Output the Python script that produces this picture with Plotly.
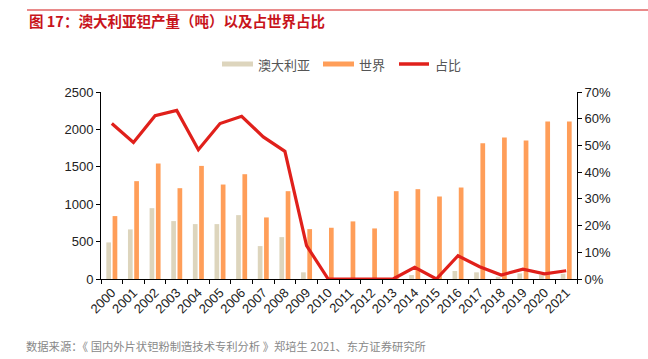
import plotly.graph_objects as go

years = [str(y) for y in range(2000, 2022)]
australia = [489, 663, 947, 774, 734, 734, 854, 440, 560, 89, 0, 0, 0, 0, 53, 0, 107, 89, 30, 75, 53, 71]
world = [841, 1308, 1544, 1214, 1512, 1263, 1401, 823, 1174, 667, 685, 770, 676, 1174, 1201, 1103, 1223, 1815, 1891, 1851, 2104, 2104]
share = [58.2, 51.1, 61.1, 63.1, 48.4, 58.2, 60.9, 53.2, 47.8, 12.5, 0, 0, 0, 0, 4.4, 0, 8.7, 4.6, 1.5, 3.7, 1.9, 3.1]
share_frac = [s / 100 for s in share]

BEIGE = "#DDD5BD"
ORANGE = "#FF9E59"
RED = "#E0201B"
FONT = "Noto Sans CJK SC"

W, H = 648, 359
L, R, T, B = 101, 577, 92, 279

def px(x):
    return (x - L) / (R - L)

def py(y):
    return (B - y) / (B - T)

fig = go.Figure()
fig.add_trace(go.Bar(x=years, y=australia, name="澳大利亚", marker=dict(color=BEIGE, line=dict(width=0))))
fig.add_trace(go.Bar(x=years, y=world, name="世界", marker=dict(color=ORANGE, line=dict(width=0))))
fig.add_trace(go.Scatter(x=years, y=share_frac, name="占比", mode="lines", yaxis="y2",
                         line=dict(color=RED, width=3.2)))

axis_common = dict(showgrid=False, zeroline=False, showline=True, linecolor="#000", linewidth=1,
                   ticks="outside", ticklen=4, tickcolor="#000",
                   tickfont=dict(family="Liberation Sans, Arial", size=13, color="#222"))

fig.update_layout(
    width=W, height=H,
    margin=dict(l=L, r=W - R, t=T, b=H - B),
    paper_bgcolor="white", plot_bgcolor="white",
    barmode="group", bargap=0.42, bargroupgap=0.25,
    showlegend=False,
    xaxis=dict(**axis_common, type="category", tickangle=-45, tickson="boundaries"),
    yaxis=dict(**axis_common, range=[0, 2500], dtick=500),
    yaxis2=dict(**axis_common, overlaying="y", side="right", range=[0, 0.7], dtick=0.1,
                tickformat=".0%"),
)

shapes = [
    dict(type="line", xref="paper", yref="paper", x0=px(27), x1=px(648), y0=py(10), y1=py(10),
         line=dict(color="#E98A8A", width=2)),
    dict(type="rect", xref="paper", yref="paper", x0=px(222), x1=px(253), y0=py(66.5), y1=py(61.5),
         fillcolor=BEIGE, line=dict(width=0)),
    dict(type="rect", xref="paper", yref="paper", x0=px(323), x1=px(354), y0=py(66.5), y1=py(61.5),
         fillcolor=ORANGE, line=dict(width=0)),
    dict(type="line", xref="paper", yref="paper", x0=px(399), x1=px(429), y0=py(64), y1=py(64),
         line=dict(color=RED, width=3.5)),
]
fig.update_layout(shapes=shapes)

ann = [
    dict(text="<b>图 17：澳大利亚钽产量（吨）以及占世界占比</b>", x=px(27), y=py(20), xanchor="left", yanchor="middle",
         font=dict(family=FONT, size=14.5, color="#C8141C")),
    dict(text="澳大利亚", x=px(256), y=py(64), xanchor="left", yanchor="middle",
         font=dict(family=FONT, size=13, color="#555")),
    dict(text="世界", x=px(357), y=py(64), xanchor="left", yanchor="middle",
         font=dict(family=FONT, size=13, color="#555")),
    dict(text="占比", x=px(433), y=py(64), xanchor="left", yanchor="middle",
         font=dict(family=FONT, size=13, color="#555")),
    dict(text="数据来源：《 国内外片状钽粉制造技术专利分析 》郑培生 2021、东方证券研究所", x=px(24), y=py(346),
         xanchor="left", yanchor="middle", font=dict(family=FONT, size=11.3, color="#888")),
]
for a in ann:
    a.update(xref="paper", yref="paper", showarrow=False)
fig.update_layout(annotations=ann)

fig.write_html("out.html", config={"displayModeBar": False},
               post_script="document.body.style.margin='0';document.body.style.overflow='hidden';")
